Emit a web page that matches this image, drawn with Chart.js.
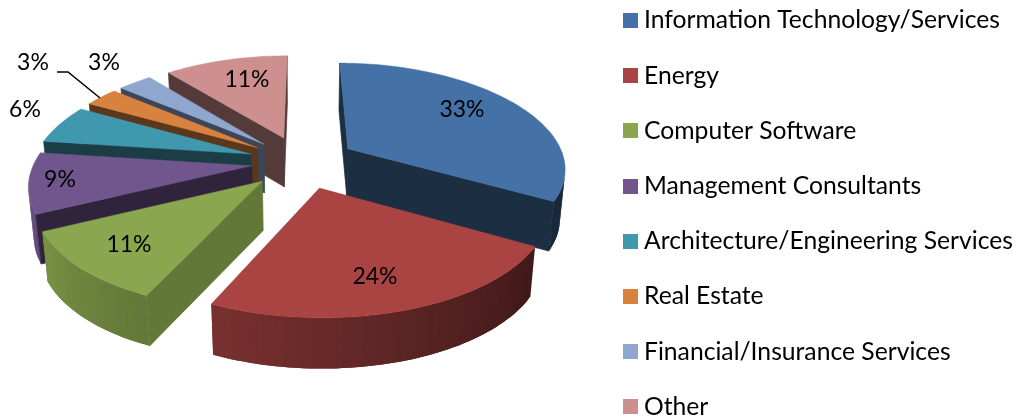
<!DOCTYPE html>
<html>
<head>
<meta charset="utf-8">
<style>html,body{margin:0;padding:0;background:#fff}canvas{display:block}</style>
<script src="https://cdn.jsdelivr.net/npm/chart.js@4"></script>
</head>
<body>
<canvas id="c" width="1018" height="418"></canvas>
<script>
const categories = ["Information Technology/Services","Energy","Computer Software","Management Consultants","Architecture/Engineering Services","Real Estate","Financial/Insurance Services","Other"];
const shares = [33,24,11,9,5.78,2.89,3,11.33];
const colors = ["#4472A6","#A94442","#8AA64E","#70568D","#4098AF","#D98240","#8FA7CF","#CD908E"];
const wallShade = [0.40,0.40,0.72,0.42,0.40,0.42,0.42,0.41];
const explode = [217.5,217.5,217.5,202,217.5,217.5,217.5,217.5];
const labelAt = [[462,110],[375,277],[129,245],[60,180],[25,110],[33,63],[104,63],[247,80]];
const leader = [[57,72],[68,72],[100,98]];

const FONT = '"Lato","Carlito","Open Sans",sans-serif';
const radius = 217.5;
const view = {dx:-207, dy:-47, squash:0.487, a:0.172, b:0.152, converge:0.02, depth:49};

function projector(arc){
  const cx = arc.x + view.dx, cy = arc.y + view.dy, R = arc.outerRadius;
  return (X,Y,Z)=>{
    const f = 1+view.a*Y, g = 1+view.b*Y;
    return [cx+R*X*f*(1-view.converge*Z), cy+R*view.squash*Y*g+view.depth*Z*(1+0.03*Y)];
  };
}
function hex(c,k){
  const n=parseInt(c.slice(1),16);
  return `rgb(${Math.round((n>>16&255)*k)},${Math.round((n>>8&255)*k)},${Math.round((n&255)*k)})`;
}
function poly(ctx,pts,fill,seam){
  ctx.beginPath();
  pts.forEach((p,i)=>i?ctx.lineTo(p[0],p[1]):ctx.moveTo(p[0],p[1]));
  ctx.closePath();
  ctx.fillStyle=fill; ctx.fill();
  if(seam){ctx.strokeStyle=fill;ctx.lineWidth=seam;ctx.lineJoin='round';ctx.stroke();}
}
function rimShade(a){
  const deg=(a+Math.PI/2)*180/Math.PI;
  return Math.max(0.37,Math.min(0.92,0.38+(deg-119)*0.004));
}
function drawSlice(ctx,arc,i){
  const P=projector(arc);
  const base=arc.options.backgroundColor;
  const mid=(arc.startAngle+arc.endAngle)/2;
  const e=(arc.options.offset/4)/arc.outerRadius;
  const ox=Math.cos(mid)*e, oy=Math.sin(mid)*e;
  const edge=[[ox,oy]];
  const n=Math.max(4,Math.round((arc.endAngle-arc.startAngle)/(Math.PI/120)));
  const angles=[];
  for(let k=0;k<=n;k++){
    const t=arc.startAngle+(arc.endAngle-arc.startAngle)*k/n;
    angles.push(t);
    edge.push([ox+Math.cos(t),oy+Math.sin(t)]);
  }
  const top=edge.map(p=>P(p[0],p[1],0));
  const bot=edge.map(p=>P(p[0],p[1],1));
  const N=edge.length;
  const visible=(k)=>{
    const m=(k+1)%N;
    const d=[top[m][0]-top[k][0],top[m][1]-top[k][1]];
    const v=[bot[k][0]-top[k][0],bot[k][1]-top[k][1]];
    return d[0]*v[1]-d[1]*v[0]<0;
  };
  for(let k=N-2;k>=1;k--){
    if(!visible(k)) continue;
    const m=k+1, o=(k+2<N && visible(k+1))?k+2:k+1;
    poly(ctx,[top[k],top[m],top[o],bot[o],bot[m],bot[k]],hex(base,rimShade(angles[k-1])));
  }
  [0,N-1].forEach(k=>{
    if(!visible(k)) return;
    const m=(k+1)%N;
    poly(ctx,[top[k],top[m],bot[m],bot[k]],hex(base,wallShade[i]),0.7);
  });
  poly(ctx,top,base,0.4);
}
const pie3d={
  id:'pie3d',
  beforeDatasetDraw(chart){
    const ctx=chart.ctx, arcs=chart.getDatasetMeta(0).data;
    const order=arcs.map((a,i)=>i).sort((p,q)=>{
      const my=i=>Math.sin((arcs[i].startAngle+arcs[i].endAngle)/2);
      return my(p)-my(q);
    });
    ctx.save();
    order.forEach(i=>drawSlice(ctx,arcs[i],i));
    ctx.restore();
    return false;
  },
  afterDraw(chart){
    const ctx=chart.ctx;
    ctx.save();
    ctx.strokeStyle='#000';ctx.lineWidth=1.5;
    ctx.beginPath();
    leader.forEach((p,i)=>i?ctx.lineTo(p[0],p[1]):ctx.moveTo(p[0],p[1]));
    ctx.stroke();
    ctx.fillStyle='#000';ctx.textBaseline='middle';ctx.textAlign='center';
    ctx.font='23px '+FONT;
    shares.forEach((v,i)=>ctx.fillText(Math.round(v)+'%',labelAt[i][0],labelAt[i][1]));
    ctx.textAlign='left';
    ctx.font='24.7px '+FONT;
    categories.forEach((name,i)=>{
      const y=20.5+i*55.2;
      ctx.fillStyle=colors[i];
      ctx.fillRect(623,Math.round(y-7.5),15,15);
      ctx.fillStyle='#000';
      ctx.fillText(name,644,y);
    });
    ctx.restore();
  }
};
new Chart(document.getElementById('c'),{
  type:'pie',
  data:{labels:categories,datasets:[{data:shares,backgroundColor:colors,borderWidth:0,offset:explode,radius:radius}]},
  options:{responsive:false,animation:false,devicePixelRatio:1,
    plugins:{legend:{display:false},tooltip:{enabled:false}}},
  plugins:[pie3d]
});
</script>
</body>
</html>
